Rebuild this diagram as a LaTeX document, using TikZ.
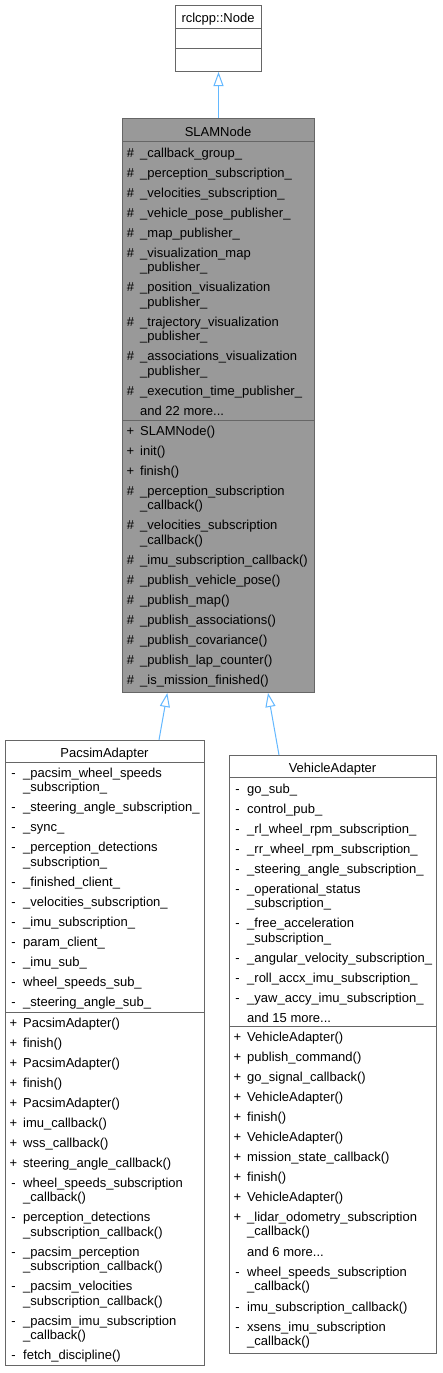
\documentclass[tikz,border=0pt]{standalone}
\usepackage{fontspec}
\setmainfont{Liberation Sans}
\usetikzlibrary{arrows.meta,calc}
\definecolor{bordergray}{HTML}{666666}
\definecolor{fillgray}{HTML}{999999}
\definecolor{edgeblue}{HTML}{63B8FF}
\newcommand\umlfont{\fontsize{13}{14.5}\selectfont}
\tikzset{
  classbox/.style={draw=bordergray, line width=1pt, inner sep=0pt, anchor=north west},
  sepline/.style={draw=bordergray, line width=1pt},
  vismark/.style={inner sep=0pt, anchor=base, font=\umlfont},
  itemtxt/.style={inner sep=0pt, anchor=base west, font=\umlfont},
  titletxt/.style={inner sep=0pt, anchor=base, font=\umlfont},
  inherit/.style={draw=edgeblue, line width=1pt, -{Triangle[length=14pt,width=10pt,fill=white]}},
}
% #1 name, #2 box left x, #3 line centre y, #4 marker, #5 text
\newcommand\urow[5]{%
  \node[vismark] (#1m) at (#2+8.5,#3+4) {#4};
  \node[itemtxt] (#1) at (#2+18,#3+4) {#5};
}
\newcommand\ucont[4]{%
  \node[itemtxt] (#1) at (#2+18,#3+4) {#4};
}
\begin{document}
\begin{tikzpicture}[x=1pt,y=-1pt]
\useasboundingbox (0,0) rectangle (442,1373);
\fill[white] (0,0) rectangle (442,1373);

% ---------- rclcpp::Node ----------
\node[classbox, fill=white, minimum width=86pt, minimum height=66pt] (node) at (175,5) {};
\node[titletxt] (nodetitle) at (218,23) {rclcpp::Node};
\draw[sepline] ($(node.north west)+(0,23)$) -- ($(node.north east)+(0,23)$);
\draw[sepline] ($(node.north west)+(0,43)$) -- ($(node.north east)+(0,43)$);

% ---------- SLAMNode ----------
\node[classbox, fill=fillgray, minimum width=192pt, minimum height=574pt] (slam) at (122,118) {};
\node[titletxt] (slamtitle) at (218,136) {SLAMNode};
\draw[sepline] ($(slam.north west)+(0,23)$) -- ($(slam.north east)+(0,23)$);
\draw[sepline] ($(slam.north west)+(0,302)$) -- ($(slam.north east)+(0,302)$);
\urow{sa1}{122}{153}{\#}{\_callback\_group\_}
\urow{sa2}{122}{173}{\#}{\_perception\_subscription\_}
\urow{sa3}{122}{193}{\#}{\_velocities\_subscription\_}
\urow{sa4}{122}{213}{\#}{\_vehicle\_pose\_publisher\_}
\urow{sa5}{122}{233}{\#}{\_map\_publisher\_}
\urow{sa6}{122}{253}{\#}{\_visualization\_map}
\ucont{sa6b}{122}{267.5}{\_publisher\_}
\urow{sa7}{122}{287.5}{\#}{\_position\_visualization}
\ucont{sa7b}{122}{302}{\_publisher\_}
\urow{sa8}{122}{322}{\#}{\_trajectory\_visualization}
\ucont{sa8b}{122}{336.5}{\_publisher\_}
\urow{sa9}{122}{356.5}{\#}{\_associations\_visualization}
\ucont{sa9b}{122}{371}{\_publisher\_}
\urow{sa10}{122}{391}{\#}{\_execution\_time\_publisher\_}
\ucont{sa11}{122}{411}{and 22 more...}
\urow{sm1}{122}{431}{+}{SLAMNode()}
\urow{sm2}{122}{451}{+}{init()}
\urow{sm3}{122}{471}{+}{finish()}
\urow{sm4}{122}{491}{\#}{\_perception\_subscription}
\ucont{sm4b}{122}{505.5}{\_callback()}
\urow{sm5}{122}{525.5}{\#}{\_velocities\_subscription}
\ucont{sm5b}{122}{540}{\_callback()}
\urow{sm6}{122}{560}{\#}{\_imu\_subscription\_callback()}
\urow{sm7}{122}{580}{\#}{\_publish\_vehicle\_pose()}
\urow{sm8}{122}{600}{\#}{\_publish\_map()}
\urow{sm9}{122}{620}{\#}{\_publish\_associations()}
\urow{sm10}{122}{640}{\#}{\_publish\_covariance()}
\urow{sm11}{122}{660}{\#}{\_publish\_lap\_counter()}
\urow{sm12}{122}{680}{\#}{\_is\_mission\_finished()}

% ---------- PacsimAdapter ----------
\node[classbox, fill=white, minimum width=199pt, minimum height=625pt] (pacsim) at (5,740) {};
\node[titletxt] (pacsimtitle) at (104.5,757) {PacsimAdapter};
\draw[sepline] ($(pacsim.north west)+(0,22)$) -- ($(pacsim.north east)+(0,22)$);
\draw[sepline] ($(pacsim.north west)+(0,272)$) -- ($(pacsim.north east)+(0,272)$);
\urow{pa1}{5}{773}{-}{\_pacsim\_wheel\_speeds}
\ucont{pa1b}{5}{787.5}{\_subscription\_}
\urow{pa2}{5}{807.5}{-}{\_steering\_angle\_subscription\_}
\urow{pa3}{5}{827.5}{-}{\_sync\_}
\urow{pa4}{5}{847.5}{-}{\_perception\_detections}
\ucont{pa4b}{5}{862}{\_subscription\_}
\urow{pa5}{5}{882.5}{-}{\_finished\_client\_}
\urow{pa6}{5}{902.5}{-}{\_velocities\_subscription\_}
\urow{pa7}{5}{922.5}{-}{\_imu\_subscription\_}
\urow{pa8}{5}{942.5}{-}{param\_client\_}
\urow{pa9}{5}{962.5}{-}{\_imu\_sub\_}
\urow{pa10}{5}{982.5}{-}{wheel\_speeds\_sub\_}
\urow{pa11}{5}{1002.5}{-}{\_steering\_angle\_sub\_}
\urow{pm1}{5}{1023}{+}{PacsimAdapter()}
\urow{pm2}{5}{1043}{+}{finish()}
\urow{pm3}{5}{1063}{+}{PacsimAdapter()}
\urow{pm4}{5}{1083}{+}{finish()}
\urow{pm5}{5}{1103}{+}{PacsimAdapter()}
\urow{pm6}{5}{1123}{+}{imu\_callback()}
\urow{pm7}{5}{1143}{+}{wss\_callback()}
\urow{pm8}{5}{1163}{+}{steering\_angle\_callback()}
\urow{pm9}{5}{1183}{-}{wheel\_speeds\_subscription}
\ucont{pm9b}{5}{1197.5}{\_callback()}
\urow{pm10}{5}{1217.5}{-}{perception\_detections}
\ucont{pm10b}{5}{1232}{\_subscription\_callback()}
\urow{pm11}{5}{1252}{-}{\_pacsim\_perception}
\ucont{pm11b}{5}{1266.5}{\_subscription\_callback()}
\urow{pm12}{5}{1286.5}{-}{\_pacsim\_velocities}
\ucont{pm12b}{5}{1301}{\_subscription\_callback()}
\urow{pm13}{5}{1321}{-}{\_pacsim\_imu\_subscription}
\ucont{pm13b}{5}{1335.5}{\_callback()}
\urow{pm14}{5}{1355.5}{-}{fetch\_discipline()}

% ---------- VehicleAdapter ----------
\node[classbox, fill=white, minimum width=207pt, minimum height=598pt] (vehicle) at (229,755) {};
\node[titletxt] (vehicletitle) at (332.5,772) {VehicleAdapter};
\draw[sepline] ($(vehicle.north west)+(0,22)$) -- ($(vehicle.north east)+(0,22)$);
\draw[sepline] ($(vehicle.north west)+(0,271)$) -- ($(vehicle.north east)+(0,271)$);
\urow{va1}{229}{789}{-}{go\_sub\_}
\urow{va2}{229}{809}{-}{control\_pub\_}
\urow{va3}{229}{829}{-}{\_rl\_wheel\_rpm\_subscription\_}
\urow{va4}{229}{849}{-}{\_rr\_wheel\_rpm\_subscription\_}
\urow{va5}{229}{869}{-}{\_steering\_angle\_subscription\_}
\urow{va6}{229}{889}{-}{\_operational\_status}
\ucont{va6b}{229}{903.5}{\_subscription\_}
\urow{va7}{229}{923.5}{-}{\_free\_acceleration}
\ucont{va7b}{229}{938}{\_subscription\_}
\urow{va8}{229}{958}{-}{\_angular\_velocity\_subscription\_}
\urow{va9}{229}{978}{-}{\_roll\_accx\_imu\_subscription\_}
\urow{va10}{229}{998}{-}{\_yaw\_accy\_imu\_subscription\_}
\ucont{va11}{229}{1018}{and 15 more...}
\urow{vm1}{229}{1037}{+}{VehicleAdapter()}
\urow{vm2}{229}{1057}{+}{publish\_command()}
\urow{vm3}{229}{1077}{+}{go\_signal\_callback()}
\urow{vm4}{229}{1097}{+}{VehicleAdapter()}
\urow{vm5}{229}{1117}{+}{finish()}
\urow{vm6}{229}{1137}{+}{VehicleAdapter()}
\urow{vm7}{229}{1157}{+}{mission\_state\_callback()}
\urow{vm8}{229}{1177}{+}{finish()}
\urow{vm9}{229}{1197}{+}{VehicleAdapter()}
\urow{vm10}{229}{1217}{+}{\_lidar\_odometry\_subscription}
\ucont{vm10b}{229}{1231.5}{\_callback()}
\ucont{vm11}{229}{1252}{and 6 more...}
\urow{vm12}{229}{1272}{-}{wheel\_speeds\_subscription}
\ucont{vm12b}{229}{1286.5}{\_callback()}
\urow{vm13}{229}{1307}{-}{imu\_subscription\_callback()}
\urow{vm14}{229}{1327}{-}{xsens\_imu\_subscription}
\ucont{vm14b}{229}{1341.5}{\_callback()}

% ---------- inheritance ----------
\draw[inherit] (slam.north) -- (node.south);
\draw[inherit] ($(pacsim.north west)+(154,0)$) -- ($(slam.south west)+(45.3,0)$);
\draw[inherit] ($(vehicle.north west)+(50,0)$) -- ($(slam.south west)+(146,0)$);
\end{tikzpicture}
\end{document}
